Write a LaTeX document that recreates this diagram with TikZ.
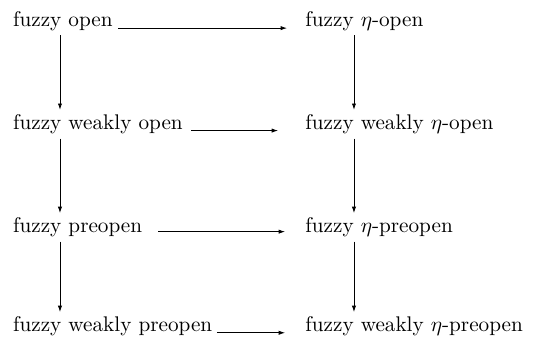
\documentclass[tikz,border=0pt]{standalone}
\usetikzlibrary{arrows.meta}

\begin{document}
\begin{tikzpicture}[x=0.4717pt,y=-0.4717pt,
    prop/.style={anchor=base west, inner xsep=0pt, inner ysep=2pt},
    imp/.style={-{Latex[length=3pt,width=2pt]}}]
    \useasboundingbox (0,0) rectangle (543,336);
    % left column
    \node[prop] (fo)   at (12.7,26)    {fuzzy open};
    \node[prop] (fwo)  at (12.7,129.5) {fuzzy weakly open};
    \node[prop] (fpo)  at (12.7,232.7) {fuzzy preopen};
    \node[prop] (fwpo) at (12.7,331.7) {fuzzy weakly preopen};
    % right column
    \node[prop] (eo)   at (305,26)     {fuzzy $\eta$-open};
    \node[prop] (ewo)  at (305,129.5)  {fuzzy weakly $\eta$-open};
    \node[prop] (epo)  at (305,232.7)  {fuzzy $\eta$-preopen};
    \node[prop] (ewpo) at (305,331.7)  {fuzzy weakly $\eta$-preopen};
    % horizontal
    \draw[imp, shorten <=2.4pt, shorten >=8.5pt]  ([yshift=-1pt]fo.base east)   -- ([yshift=-1pt]eo.base west);
    \draw[imp, shorten <=3.8pt, shorten >=12.7pt] ([yshift=-0.5pt]fwo.base east)  -- ([yshift=-0.5pt]ewo.base west);
    \draw[imp, shorten <=7.5pt, shorten >=9.4pt]  ([yshift=0.5pt]fpo.base east)  -- ([yshift=0.5pt]epo.base west);
    \draw[imp, shorten <=2pt, shorten >=9.4pt]    ([yshift=-0.5pt]fwpo.base east) -- ([yshift=-0.5pt]ewpo.base west);
    % vertical
    \draw[imp] ([xshift=22.3pt]fo.south west)  -- ([xshift=22.3pt]fwo.north west);
    \draw[imp] ([xshift=22.3pt]fwo.south west) -- ([xshift=22.3pt]fpo.north west);
    \draw[imp] ([xshift=22.3pt]fpo.south west) -- ([xshift=22.3pt]fwpo.north west);
    \draw[imp] ([xshift=23.1pt]eo.south west)  -- ([xshift=23.1pt]ewo.north west);
    \draw[imp] ([xshift=23.1pt]ewo.south west) -- ([xshift=23.1pt]epo.north west);
    \draw[imp] ([xshift=23.1pt]epo.south west) -- ([xshift=23.1pt]ewpo.north west);
\end{tikzpicture}
\end{document}
